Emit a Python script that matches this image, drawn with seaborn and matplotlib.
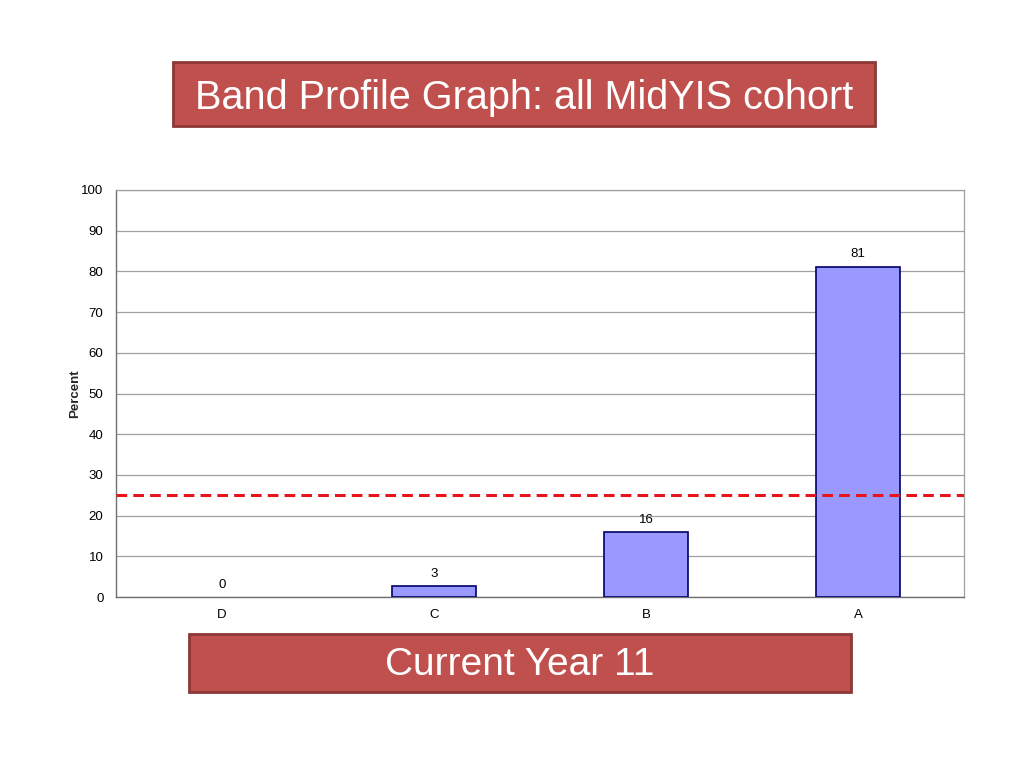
import pandas as pd
import matplotlib
matplotlib.use("Agg")
import matplotlib.pyplot as plt
import seaborn as sns
from matplotlib.patches import Rectangle

# dados
bandas = ['D', 'C', 'B', 'A']
percentual = [0, 2.6, 16, 81.2]
rotulos = ['0', '3', '16', '81']
linha_ref = 25

titulo = 'Band Profile Graph: all MidYIS cohort'
subtitulo = 'Current Year 11'

sns.set_style('white')
plt.rcParams['font.family'] = ['Liberation Sans', 'DejaVu Sans']

df = pd.DataFrame({'banda': bandas, 'percentual': percentual})

fig = plt.figure(figsize=(10.24, 7.68), dpi=100)
ax = fig.add_axes([116 / 1024, 1 - 597 / 768, 848 / 1024, 407 / 768])

sns.barplot(data=df, x='banda', y='percentual', order=bandas, color='#9999ff',
            saturation=1, width=0.4, edgecolor='#000066', linewidth=1.2, ax=ax, zorder=3)

# barra com altura zero não aparece no original
for barra in ax.patches:
    if barra.get_height() == 0:
        barra.set_visible(False)

for i, (v, r) in enumerate(zip(percentual, rotulos)):
    ax.text(i, v + 1.5, r, ha='center', va='bottom', fontsize=9.5, color='black')

ax.axhline(linha_ref, color='#e8141b', linestyle=(0, (3.5, 2)), linewidth=2.2, zorder=4)

ax.set_ylim(0, 100)
ax.set_xlim(-0.5, len(bandas) - 0.5)
ax.set_yticks(range(0, 101, 10))
ax.yaxis.grid(True, color='#a0a0a0', linewidth=0.9, zorder=0)
ax.set_axisbelow(True)
ax.set_xlabel('')
ax.set_ylabel('Percent', fontsize=9.5, fontweight='bold', labelpad=0)
ax.tick_params(axis='both', labelsize=9.5, colors='black')
ax.tick_params(axis='y', direction='out', length=5, color='#707070', width=0.9, pad=4)
ax.tick_params(axis='x', length=0, pad=9)
ax.set_xticks([i + 0.5 for i in range(len(bandas) - 1)], minor=True)
ax.tick_params(axis='x', which='minor', direction='out', length=5, color='#707070', width=0.9)
for lado in ['top', 'right']:
    ax.spines[lado].set_color('#a0a0a0')
    ax.spines[lado].set_linewidth(0.9)
for lado in ['left', 'bottom']:
    ax.spines[lado].set_color('#707070')
    ax.spines[lado].set_linewidth(1.0)

# caixas de título
def caixa(x0, y0, x1, y1, texto, tam, dy):
    fig.patches.append(Rectangle((x0 / 1024, 1 - y1 / 768), (x1 - x0) / 1024, (y1 - y0) / 768,
                                 transform=fig.transFigure, facecolor='#c0504d',
                                 edgecolor='#8c3836', linewidth=2))
    fig.text((x0 + x1) / 2 / 1024, 1 - ((y0 + y1) / 2 + dy) / 768, texto, ha='center',
             va='center', color='white', fontsize=tam)

caixa(173, 62, 875, 126, titulo, 28.5, 4)
caixa(189, 634, 851, 692, subtitulo, 28, 2)

plt.savefig('out.png', dpi=100)
